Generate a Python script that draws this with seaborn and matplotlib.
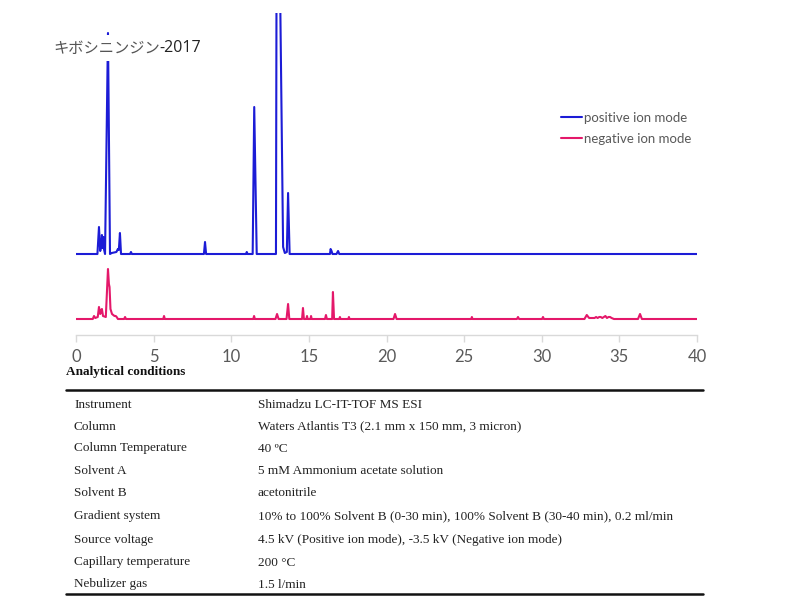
import matplotlib
matplotlib.use("Agg")
import matplotlib.pyplot as plt
import seaborn as sns
from matplotlib.lines import Line2D
from matplotlib.text import Annotation

# chromatogram vertices (time in min, intensity in arbitrary units)
pos_time = [0, 1.38, 1.48, 1.56, 1.62, 1.67, 1.72, 1.76, 1.80, 1.87,
            2.06, 2.19, 2.30, 2.60, 2.70, 2.76, 2.83, 2.90,
            3.48, 3.54, 3.60, 8.24, 8.31, 8.38, 10.95, 11.00, 11.05,
            11.38, 11.48, 11.64, 12.88, 12.92, 13.12, 13.34, 13.45,
            13.58, 13.66, 13.76, 16.36, 16.40, 16.46, 16.52,
            16.78, 16.88, 16.96, 40]
pos_int = [0, 0, 27, 3, 8, 19, 6, 17, 5, 0,
           221, 0, 1, 2, 5, 4, 21, 0,
           0, 2, 0, 0, 12, 0, 0, 2, 0,
           0, 147, 0, 0, 300, 300, 7, 1,
           2, 61, 0, 0, 5, 3, 0,
           0, 3, 0, 0]

neg_time = [0, 1.08, 1.16, 1.24, 1.40, 1.48, 1.56, 1.62, 1.67, 1.74, 1.92,
            2.06, 2.12, 2.16, 2.22, 2.32, 2.40, 2.48, 2.56, 2.62, 2.70,
            3.10, 3.16, 3.22, 5.62, 5.67, 5.72, 11.42, 11.47, 11.52,
            12.85, 12.95, 13.05, 13.56, 13.66, 13.74, 14.56, 14.62, 14.68,
            14.84, 14.88, 14.92, 15.10, 15.14, 15.18, 16.04, 16.10, 16.16,
            16.50, 16.55, 16.62, 16.96, 17.00, 17.04, 17.54, 17.58, 17.62,
            20.45, 20.55, 20.65, 25.46, 25.50, 25.54, 28.40, 28.47, 28.54,
            30.02, 30.08, 30.14, 32.75, 32.90, 33.05,
            33.4, 33.5, 33.6, 33.7, 33.8, 33.9, 34.0, 34.1, 34.2, 34.3, 34.4, 34.5, 34.65,
            36.20, 36.33, 36.45, 40]
neg_int = [0, 0, 3, 1, 2, 12, 5, 9, 10, 3, 2,
           50, 35, 32, 10, 5, 4, 3, 3, 2, 0,
           0, 2, 0, 0, 3, 0, 0, 3, 0,
           0, 5, 0, 0, 15, 0, 0, 11, 0,
           0, 3, 0, 0, 3, 0, 0, 4, 0,
           0, 27, 0, 0, 2, 0, 0, 2, 0,
           0, 5, 0, 0, 2, 0, 0, 2, 0,
           0, 2, 0, 0, 4, 1,
           1, 2, 1, 2, 2, 1, 2, 3, 1, 2, 2, 1, 0,
           0, 5, 0, 0]

series_labels = ["positive ion mode", "negative ion mode"]
title_jp = "キボシニンジン"
title_year = "-2017"
x_ticks = [0, 5, 10, 15, 20, 25, 30, 35, 40]

cond_names = ["Instrument", "Column", "Column Temperature", "Solvent A", "Solvent B",
              "Gradient system", "Source voltage", "Capillary temperature", "Nebulizer gas"]
cond_values = ["Shimadzu LC-IT-TOF MS ESI",
               "Waters Atlantis T3 (2.1 mm x 150 mm, 3 micron)",
               "40 \u00baC",
               "5 mM Ammonium acetate solution",
               "acetonitrile",
               "10% to 100% Solvent B (0-30 min), 100% Solvent B (30-40 min), 0.2 ml/min",
               "4.5 kV (Positive ion mode), -3.5 kV (Negative ion mode)",
               "200 \u00b0C",
               "1.5 l/min"]

sns.set_style("white")
plt.rcParams['font.family'] = ['Lato', 'DejaVu Sans']

W, H = 795, 597
fig = plt.figure(figsize=(W / 100, H / 100), dpi=100)

def fx(px):
    return px / W

def fy(py):
    return 1 - py / H

ax = fig.add_axes([fx(76), fy(335), fx(697) - fx(76), fy(13) - fy(335)])

blue = "#1c1cd6"
pink = "#e4186a"
pos_offset = 81
neg_offset = 16

sns.lineplot(x=pos_time, y=[v + pos_offset for v in pos_int], ax=ax, color=blue,
             lw=1.5, label=series_labels[0], sort=False, estimator=None)
sns.lineplot(x=neg_time, y=[v + neg_offset for v in neg_int], ax=ax, color=pink,
             lw=1.5, label=series_labels[1], sort=False, estimator=None)

ax.set_xlim(0, 40)
ax.set_ylim(0, 322)
ax.set_yticks([])
ax.set_xticks(x_ticks)
ax.set_xticklabels([str(t) for t in x_ticks])
for s in ["top", "left", "right"]:
    ax.spines[s].set_visible(False)
ax.spines["bottom"].set_color("#d9d9d9")
ax.spines["bottom"].set_linewidth(1)
ax.tick_params(axis="x", direction="out", length=5, color="#d9d9d9", width=1,
               labelcolor="#595959", labelsize=12, pad=5, bottom=True)
ax.set_xlabel("")
ax.set_ylabel("")

leg = ax.legend(loc="upper left", bbox_to_anchor=(fx(554), fy(105)),
                bbox_transform=fig.transFigure, frameon=False, fontsize=9.5,
                handlelength=1.65, handletextpad=0.1, labelspacing=0.72, borderpad=0)
for t in leg.get_texts():
    t.set_color("#595959")

# title sits on a white box that hides part of the first peak, as in the original
jp = fig.text(fx(53), fy(48), title_jp, fontsize=11, color="#555555", va="center", ha="left",
              family=['Noto Sans CJK JP', 'DejaVu Sans'], zorder=10,
              bbox=dict(boxstyle="square,pad=0.3", fc="white", ec="none"))
year = Annotation(title_year, xy=(1, 0.5), xycoords=jp, va="center", ha="left",
                  fontsize=11.5, color="#222222", family=['Open Sans', 'DejaVu Sans'],
                  annotation_clip=False)
year.set_zorder(11)
fig.add_artist(year)

# analytical conditions table
serif = ['Liberation Serif', 'DejaVu Serif']
fig.text(fx(66), fy(371), "Analytical conditions", fontsize=9.5, fontweight="bold",
         family=serif, va="center_baseline", ha="left", color="#111111")
fig.add_artist(Line2D([fx(66), fx(703)], [fy(390), fy(390)], color="#111111", lw=1.8))
fig.add_artist(Line2D([fx(66), fx(703)], [fy(594), fy(594)], color="#111111", lw=1.8))
row_y = [403, 425, 447, 470, 492, 515, 538, 561, 583]
for name, val, y in zip(cond_names, cond_values, row_y):
    fig.text(fx(74), fy(y), name, fontsize=9.5, family=serif, va="center_baseline",
             ha="left", color="#222222")
    fig.text(fx(258), fy(y), val, fontsize=9.5, family=serif, va="center_baseline",
             ha="left", color="#222222")

fig.savefig("out.png", dpi=100)
